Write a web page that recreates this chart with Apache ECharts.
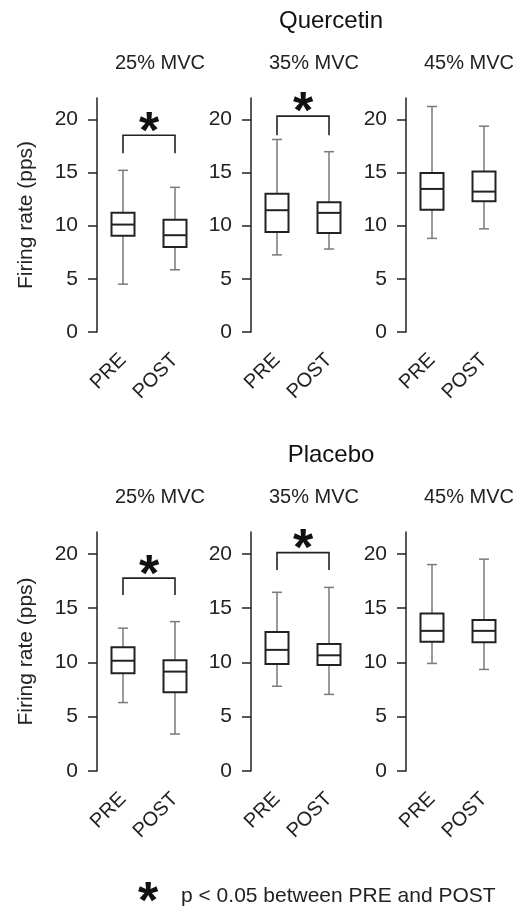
<!DOCTYPE html>
<html>
<head>
<meta charset="utf-8">
<script src="https://cdn.jsdelivr.net/npm/echarts@6/dist/echarts.min.js"></script>
<style>
  html, body { margin: 0; padding: 0; background: #fff; }
  #main { width: 526px; height: 911px; }
</style>
</head>
<body>
<div id="main"></div>
<script>
// categories
const groups = ['PRE', 'POST'];
const intensities = ['25% MVC', '35% MVC', '45% MVC'];
const rowTitles = ['Quercetin', 'Placebo'];
const yTicks = [0, 5, 10, 15, 20];

// [min, Q1, median, Q3, max] for PRE and POST
const quercetin25 = [[4.5, 9.05, 10.1, 11.2, 15.2], [5.85, 8.0, 9.1, 10.55, 13.6]];
const quercetin35 = [[7.25, 9.4, 11.45, 13.0, 18.1], [7.8, 9.3, 11.2, 12.2, 16.95]];
const quercetin45 = [[8.8, 11.5, 13.45, 14.95, 21.2], [9.7, 12.3, 13.2, 15.1, 19.35]];
const placebo25 = [[6.3, 9.0, 10.15, 11.4, 13.15], [3.4, 7.25, 9.15, 10.2, 13.75]];
const placebo35 = [[7.8, 9.85, 11.15, 12.8, 16.45], [7.05, 9.75, 10.65, 11.7, 16.9]];
const placebo45 = [[9.9, 11.9, 12.9, 14.5, 19.0], [9.35, 11.85, 12.9, 13.9, 19.5]];

// significance brackets: [leg bottom, bracket top], null = no bracket
const quercetinSig = [[16.8, 18.5], [18.5, 20.3], null];
const placeboSig = [[16.2, 17.75], [18.5, 20.1], null];

const rows = [
  [quercetin25, quercetin35, quercetin45],
  [placebo25, placebo35, placebo45]
];
const sigs = [quercetinSig, placeboSig];

const rowTop = [98, 532];
const rowHeight = [234, 239];
const colLeft = [97, 251, 406];
const panelWidth = 104;
const ink = '#222';

const chart = echarts.init(document.getElementById('main'));

function renderBox(params, api) {
  const i = api.value(0);
  const lo = api.coord([i, api.value(1)]);
  const q1 = api.coord([i, api.value(2)]);
  const md = api.coord([i, api.value(3)]);
  const q3 = api.coord([i, api.value(4)]);
  const hi = api.coord([i, api.value(5)]);
  const cx = lo[0];
  const half = 11.5, cap = 5;
  const whisker = { stroke: '#7a7a7a', lineWidth: 1.5 };
  const box = { stroke: ink, lineWidth: 2 };
  return {
    type: 'group',
    children: [
      { type: 'line', shape: { x1: cx, y1: hi[1], x2: cx, y2: q3[1] }, style: whisker },
      { type: 'line', shape: { x1: cx, y1: q1[1], x2: cx, y2: lo[1] }, style: whisker },
      { type: 'line', shape: { x1: cx - cap, y1: hi[1], x2: cx + cap, y2: hi[1] }, style: whisker },
      { type: 'line', shape: { x1: cx - cap, y1: lo[1], x2: cx + cap, y2: lo[1] }, style: whisker },
      { type: 'rect', shape: { x: cx - half, y: q3[1], width: half * 2, height: q1[1] - q3[1] },
        style: Object.assign({ fill: '#fff' }, box) },
      { type: 'line', shape: { x1: cx - half, y1: md[1], x2: cx + half, y2: md[1] }, style: box }
    ]
  };
}

function renderBracket(params, api) {
  const bottom = api.value(0);
  const top = api.value(1);
  const a = api.coord([0, bottom]);
  const b = api.coord([0, top]);
  const c = api.coord([1, top]);
  const d = api.coord([1, bottom]);
  return {
    type: 'group',
    children: [
      { type: 'polyline', shape: { points: [a, b, c, d] },
        style: { stroke: ink, lineWidth: 1.6, fill: null } },
      { type: 'text', x: (b[0] + c[0]) / 2, y: b[1] - 2,
        style: { text: '*', fill: '#111', font: 'bold 52px "Liberation Sans", Arial, sans-serif',
          align: 'center', verticalAlign: 'middle', textAlign: 'center', textVerticalAlign: 'middle' } }
    ]
  };
}

const grid = [], xAxis = [], yAxis = [], series = [], title = [];
let idx = 0;
rows.forEach((panels, r) => {
  title.push({
    text: rowTitles[r], left: 331, top: rowTop[r] - 89, textAlign: 'center', padding: 0,
    textStyle: { fontSize: 24, fontWeight: 'normal', color: '#111', fontFamily: 'Liberation Sans, Arial, sans-serif' }
  });
  panels.forEach((boxes, c) => {
    title.push({
      text: intensities[c], left: colLeft[c] + 63, top: rowTop[r] - 45, textAlign: 'center', padding: 0,
      textStyle: { fontSize: 20, fontWeight: 'normal', color: '#222', fontFamily: 'Liberation Sans, Arial, sans-serif' }
    });
    grid.push({ left: colLeft[c], top: rowTop[r], width: panelWidth, height: rowHeight[r] });
    xAxis.push({
      type: 'category', gridIndex: idx, data: groups,
      axisLine: { show: false }, axisTick: { show: false },
      axisLabel: { rotate: 45, margin: 25, fontSize: 20, color: ink, fontFamily: 'Liberation Sans, Arial, sans-serif' }
    });
    yAxis.push({
      type: 'value', gridIndex: idx, min: 0, max: 22,
      name: c === 0 ? 'Firing rate (pps)' : '', nameLocation: 'middle', nameGap: 60,
      nameTextStyle: { fontSize: 21, color: ink, fontFamily: 'Liberation Sans, Arial, sans-serif' },
      splitLine: { show: false },
      axisLine: { show: true, lineStyle: { color: ink, width: 1.5 } },
      axisTick: { show: true, length: 9, customValues: yTicks, lineStyle: { color: ink, width: 1.5 } },
      axisLabel: { margin: 19, fontSize: 21, color: ink, customValues: yTicks, fontFamily: 'Liberation Sans, Arial, sans-serif' }
    });
    series.push({
      type: 'custom', xAxisIndex: idx, yAxisIndex: idx,
      encode: { x: 0, y: [1, 2, 3, 4, 5] },
      renderItem: renderBox,
      data: boxes.map((b, k) => [k].concat(b)),
      silent: true, z: 2
    });
    const sig = sigs[r][c];
    if (sig) {
      series.push({
        type: 'custom', xAxisIndex: idx, yAxisIndex: idx,
        encode: { y: [0, 1] },
        renderItem: renderBracket,
        data: [sig],
        silent: true, z: 3
      });
    }
    idx++;
  });
});

chart.setOption({
  backgroundColor: '#fff',
  animation: false,
  title: title,
  grid: grid,
  xAxis: xAxis,
  yAxis: yAxis,
  series: series,
  graphic: [
    { type: 'text', x: 148, y: 904,
      style: { text: '*', fill: '#111', font: 'bold 52px "Liberation Sans", Arial, sans-serif',
        align: 'center', verticalAlign: 'middle', textAlign: 'center', textVerticalAlign: 'middle' } },
    { type: 'text', x: 181, y: 896,
      style: { text: 'p < 0.05 between PRE and POST', fill: '#222', font: '21px "Liberation Sans", Arial, sans-serif',
        align: 'left', verticalAlign: 'middle', textAlign: 'left', textVerticalAlign: 'middle' } }
  ]
});
</script>
</body>
</html>
